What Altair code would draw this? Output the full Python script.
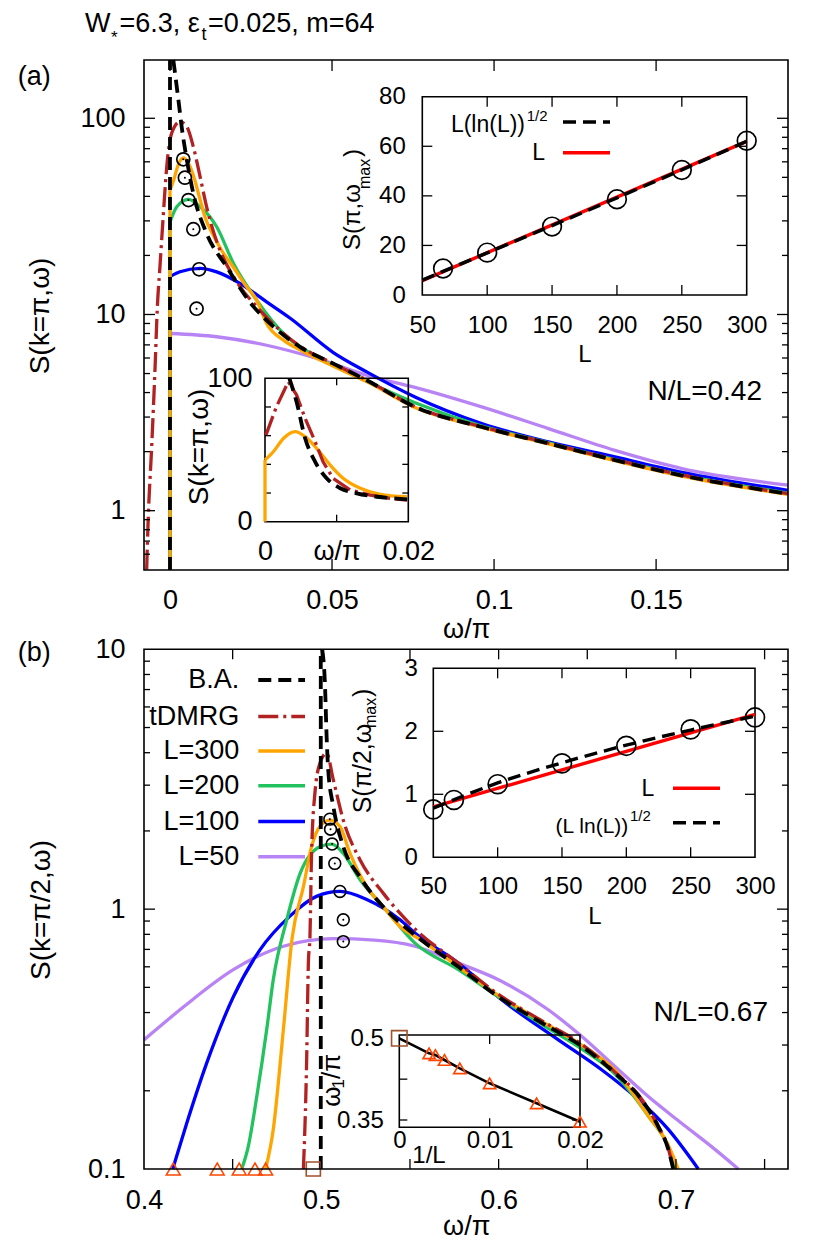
import altair as alt
import pandas as pd

FONT = "Liberation Sans"
H = 1109.0

# ======================= DATA =======================
# ---- panel (a): S(k=pi, omega), N/L=0.42 ----
A_BA_EDGE_W = [0.0, 0.0]
A_BA_EDGE_S = [0.4985, 198.2]
A_BA_W = [0.00103, 0.0026, 0.0036, 0.0052, 0.0072, 0.0113, 0.0175, 0.0257, 0.0288, 0.0401,
          0.0504, 0.0607, 0.0756, 0.0962, 0.1168, 0.1373, 0.158, 0.1907]
A_BA_S = [198.0, 124.0, 90.6, 61.3, 41.4, 25.9, 17.5, 11.0, 9.7, 6.84,
          5.62, 4.62, 3.38, 2.67, 2.20, 1.81, 1.51, 1.22]

A_TD_W = [-0.0072, -0.0067, -0.0057, -0.0046, -0.0039, -0.0031, -0.0021, -0.001, 0.0005, 0.0031,
          0.0052, 0.0072, 0.0093, 0.0113, 0.0154, 0.0196, 0.0278, 0.0401, 0.0504, 0.0607,
          0.0756, 0.0962, 0.1168, 0.1373, 0.158, 0.1907]
A_TD_S = [0.5, 0.93, 2.03, 5.4, 10.9, 17.5, 31.5, 56.6, 83.8, 96.0,
          90.6, 71.6, 50.3, 35.4, 21.3, 15.6, 10.5, 6.9, 5.62, 4.63,
          3.39, 2.68, 2.21, 1.82, 1.52, 1.22]

A_EDGE_W = [0.0, 0.0]
A_300_EDGE_S = [0.4985, 43.0]
A_300_W = [0.0, 0.0012, 0.0026, 0.0042, 0.0056, 0.0072, 0.0091, 0.0109, 0.0133, 0.0161,
           0.0198, 0.023, 0.0268, 0.0298, 0.035, 0.0401, 0.0504, 0.0607, 0.0756, 0.0962,
           0.1168, 0.1373, 0.158, 0.1907]
A_300_S = [43.0, 48.8, 58.2, 62.8, 59.3, 51.2, 39.5, 31.0, 25.5, 21.0,
           17.2, 14.3, 11.8, 9.0, 7.4, 6.6, 5.45, 4.55, 3.36, 2.66,
           2.19, 1.80, 1.50, 1.21]

A_200_EDGE_S = [0.4985, 29.6]
A_200_W = [0.0, 0.0021, 0.0057, 0.0093, 0.0123, 0.0144, 0.0196, 0.0268, 0.035, 0.0453,
           0.0556, 0.0756, 0.0962, 0.1168, 0.1373, 0.158, 0.1907]
A_200_S = [29.6, 35.4, 38.6, 35.4, 31.5, 28.0, 18.2, 11.8, 8.0, 6.08,
           5.0, 3.55, 2.7, 2.22, 1.82, 1.52, 1.23]

A_100_EDGE_S = [0.4985, 15.6]
A_100_W = [0.0, 0.0031, 0.0093, 0.0144, 0.0216, 0.0298, 0.037, 0.0504, 0.0607, 0.0756,
           0.0962, 0.1168, 0.1373, 0.158, 0.1907]
A_100_S = [15.6, 16.5, 17.2, 16.5, 14.4, 11.6, 9.6, 6.4, 5.1, 3.8,
           2.78, 2.24, 1.88, 1.57, 1.27]

A_50_EDGE_S = [0.4985, 8.0]
A_50_W = [0.0, 0.0144, 0.0298, 0.0453, 0.0607, 0.0756, 0.0962, 0.1168, 0.1373, 0.158, 0.1907]
A_50_S = [8.0, 7.7, 6.97, 5.97, 4.9, 4.25, 3.38, 2.62, 2.03, 1.64, 1.35]

A_MAX_W = [0.0041, 0.0046, 0.0057, 0.0072, 0.009, 0.0082]
A_MAX_S = [61.8, 49.8, 38.3, 27.2, 17.0, 10.7]

# inset (a) upper: S(pi, omega_max) vs L
A1_L = [66, 100, 150, 200, 250, 300]
A1_S = [10.7, 17.1, 27.6, 38.6, 50.4, 62.2]
A1_LIN_L = [50, 300]
A1_LIN_S = [5.8, 62.0]
A1_LOG_L = [50, 100, 150, 200, 250, 300]
A1_LOG_S = [6.0, 17.0, 28.0, 39.2, 50.5, 62.0]

# inset (a) lower: zoom near omega=0 (linear scale)
A2_TD_W = [0.00014, 0.0016, 0.00325, 0.0044, 0.0056, 0.007, 0.0081, 0.0095, 0.0119, 0.0147, 0.0174, 0.0198]
A2_TD_S = [60.5, 80.2, 97.6, 88.4, 72.1, 55.8, 41.8, 30.3, 22.1, 18.6, 16.3, 15.1]
A2_BA_W = [0.0034, 0.0044, 0.0056, 0.007, 0.0086, 0.0105, 0.0128, 0.0156, 0.0193, 0.02]
A2_BA_S = [100.0, 83.7, 58.2, 41.8, 30.3, 23.3, 19.8, 17.4, 15.8, 15.6]
A2_300_EDGE_W = [0.0, 0.0]
A2_300_EDGE_S = [0.0, 43.0]
A2_300_W = [0.0, 0.00116, 0.0026, 0.0042, 0.0056, 0.0072, 0.0091, 0.0109, 0.0133, 0.0161, 0.0198]
A2_300_S = [43.0, 48.8, 58.2, 62.8, 59.3, 51.2, 39.5, 30.3, 23.3, 19.1, 17.4]

# ---- panel (b): S(k=pi/2, omega), N/L=0.67 ----
B_BA_EDGE_W = [0.4997, 0.4997]
B_BA_EDGE_S = [0.1, 10.0]
B_BA_W = [0.5005, 0.5021, 0.503, 0.5039, 0.5068, 0.5124, 0.5218, 0.535, 0.5528, 0.5773,
          0.5999, 0.6243, 0.6468, 0.6656, 0.6806, 0.69, 0.6957, 0.6985]
B_BA_S = [10.0, 7.2, 4.6, 3.43, 2.48, 1.74, 1.33, 1.02, 0.795, 0.60,
          0.46, 0.365, 0.297, 0.234, 0.185, 0.146, 0.119, 0.1]

B_TD_W = [0.4899, 0.4917, 0.4927, 0.4936, 0.4945, 0.4964, 0.4992, 0.503, 0.5068, 0.5124,
          0.5218, 0.535, 0.5528, 0.5773, 0.5999, 0.6243, 0.6468, 0.6656, 0.6806, 0.69,
          0.6957, 0.6985]
B_TD_S = [0.1, 0.256, 0.62, 0.785, 1.64, 2.8, 3.64, 3.98, 3.14, 2.2,
          1.55, 1.15, 0.84, 0.62, 0.47, 0.372, 0.302, 0.236, 0.186, 0.146,
          0.12, 0.1]

B_300_W = [0.4686, 0.4729, 0.4786, 0.4835, 0.4899, 0.4945, 0.4992, 0.5048, 0.5105, 0.5162,
           0.5256, 0.535, 0.5444, 0.555, 0.5773, 0.6, 0.6243, 0.6468, 0.6656, 0.6844,
           0.6953, 0.7013]
B_300_S = [0.1, 0.142, 0.344, 0.77, 1.22, 1.74, 2.08, 2.2, 2.08, 1.64,
           1.22, 1.02, 0.857, 0.77, 0.60, 0.465, 0.37, 0.30, 0.24, 0.16,
           0.125, 0.1]

B_200_W = [0.4551, 0.4588, 0.4636, 0.4692, 0.4729, 0.4805, 0.488, 0.4992, 0.5059, 0.5124,
           0.5218, 0.535, 0.5528, 0.5773, 0.5999, 0.6243, 0.6468, 0.6656, 0.6844, 0.6957,
           0.7004]
B_200_S = [0.1, 0.122, 0.19, 0.344, 0.535, 0.91, 1.37, 1.74, 1.78, 1.64,
           1.3, 1.02, 0.74, 0.585, 0.46, 0.36, 0.29, 0.232, 0.16, 0.122,
           0.1]

B_100_W = [0.4162, 0.4241, 0.4354, 0.4504, 0.4654, 0.4823, 0.4973, 0.5105, 0.5256, 0.5444,
           0.5528, 0.5773, 0.6017, 0.6337, 0.6581, 0.6769, 0.6957, 0.7126]
B_100_S = [0.1, 0.15, 0.256, 0.46, 0.697, 0.94, 1.12, 1.17, 1.09, 0.91,
           0.81, 0.62, 0.448, 0.314, 0.241, 0.19, 0.142, 0.1]

B_50_W = [0.4, 0.4222, 0.4504, 0.4786, 0.5068, 0.53, 0.5528, 0.5773, 0.5999, 0.628,
          0.6468, 0.6656, 0.6844, 0.7032, 0.722, 0.7352]
B_50_S = [0.314, 0.42, 0.585, 0.72, 0.77, 0.76, 0.72, 0.62, 0.535, 0.41,
          0.324, 0.248, 0.19, 0.15, 0.119, 0.1]

B_MAX_W = [0.5048, 0.5052, 0.5061, 0.5076, 0.5105, 0.5124, 0.5124]
B_MAX_S = [2.22, 2.03, 1.78, 1.5, 1.17, 0.91, 0.75]
B_TRI_W = [0.4165, 0.4413, 0.4537, 0.4626, 0.4686]
B_TRI_S = [0.1, 0.1, 0.1, 0.1, 0.1]
B_SQ_W = [0.4955]
B_SQ_S = [0.1]

# inset (b) upper
B1_L = [50, 66, 100, 150, 200, 250, 300]
B1_S = [0.76, 0.91, 1.16, 1.49, 1.77, 2.03, 2.22]
B1_LIN_L = [50, 300]
B1_LIN_S = [0.80, 2.27]
B1_LOG_L = [50, 100, 150, 200, 250, 300]
B1_LOG_S = [0.78, 1.18, 1.50, 1.78, 2.02, 2.24]

# inset (b) lower: omega_1/pi vs 1/L
B2_X = [0.0033, 0.004, 0.005, 0.0067, 0.01, 0.0152, 0.02]
B2_Y = [0.4725, 0.4693, 0.4602, 0.4449, 0.4174, 0.3807, 0.3469]
B2_LINE_X = [0.0, 0.0033, 0.004, 0.005, 0.0067, 0.01, 0.0152, 0.02]
B2_LINE_Y = [0.5, 0.4725, 0.4693, 0.4602, 0.4449, 0.4174, 0.3807, 0.3469]
B2_SQ_X = [0.0]
B2_SQ_Y = [0.5]

LEGEND_B = ["B.A.", "tDMRG", "L=300", "L=200", "L=100", "L=50"]

# ======================= STYLE / COORDINATE SYSTEMS =======================
C_BA = "#000000"
C_TD = "#b22222"
C_300 = "#ffa500"
C_200 = "#22c35e"
C_100 = "#0000ff"
C_50 = "#b884f5"
C_RED = "#ff0000"
C_TRI = "#ff4500"
C_SQ = "#a0522d"
D_BA = [13, 7]
D_TD = [20, 5, 3, 5]

CA = dict(xd=[-0.00802, 0.1907], xr=[0, 644], yd=[0.4985, 198.2], yr=[510, 0], log=True)
CA1 = dict(xd=[50, 300], xr=[278.3, 602.7], yd=[0, 80], yr=[235, 36.7])
CA2 = dict(xd=[0, 0.02], xr=[121, 264.3], yd=[0, 100], yr=[461.7, 318.3])
CB = dict(xd=[0.4, 0.7632], xr=[0, 644], yd=[0.1, 10], yr=[H, 589.3], log=True)
CB1 = dict(xd=[50, 300], xr=[289.3, 611], yd=[0, 3], yr=[797.3, 608.3])
CB2 = dict(xd=[0, 0.02], xr=[255.3, 436], yd=[0.3366, 0.5061], yr=[1067.3, 975])

ONE = pd.DataFrame({"k": [0]})
PLAIN = "'' + datum.value"


def sx(c):
    return alt.Scale(type="linear", domain=c["xd"], range=c["xr"], zero=False, nice=False)


def sy(c):
    if c.get("log"):
        return alt.Scale(type="log", domain=c["yd"], range=c["yr"], nice=False)
    return alt.Scale(type="linear", domain=c["yd"], range=c["yr"], zero=False, nice=False)


def curve(c, w, s, color, width=3.3, dash=None, interp="monotone"):
    df = pd.DataFrame({"w": w, "s": s, "i": list(range(len(w)))})
    kw = dict(color=color, strokeWidth=width, interpolate=interp, strokeCap="butt", strokeJoin="round")
    if dash is not None:
        kw["strokeDash"] = dash
    return alt.Chart(df).mark_line(**kw).encode(
        x=alt.X("w:Q", scale=sx(c), axis=None),
        y=alt.Y("s:Q", scale=sy(c), axis=None),
        order="i:Q")


def marks(c, w, s, shape, size, color, filled=False, sw=1.5):
    df = pd.DataFrame({"w": w, "s": s})
    return alt.Chart(df).mark_point(shape=shape, size=size, filled=filled, color=color,
                                    strokeWidth=sw, opacity=1).encode(
        x=alt.X("w:Q", scale=sx(c), axis=None),
        y=alt.Y("s:Q", scale=sy(c), axis=None))


def lab_axis(orient, values, offset, pad, size, expr=PLAIN):
    kw = dict(orient=orient, values=values, offset=offset, labelPadding=pad, ticks=False,
              domain=False, grid=False, title=None, labelFont=FONT, labelFontSize=size,
              labelColor="black", labelFlush=False, labelOverlap=False, labelExpr=expr)
    if orient in ("bottom", "top"):
        kw["labelBaseline"] = "middle"
    return alt.Axis(**kw)


def xticks(c, vals, edge, length, axis=None):
    yv = c["yd"][0] if edge == "bottom" else c["yd"][1]
    off = -length if edge == "bottom" else length
    df = pd.DataFrame({"v": vals})
    return alt.Chart(df).mark_rule(color="black", strokeWidth=1.3, y2Offset=off).encode(
        x=alt.X("v:Q", scale=sx(c), axis=axis),
        y=alt.YDatum(yv, type="quantitative", scale=sy(c), axis=None),
        y2=alt.Y2Datum(yv))


def yticks(c, vals, edge, length, axis=None):
    xv = c["xd"][0] if edge == "left" else c["xd"][1]
    off = length if edge == "left" else -length
    df = pd.DataFrame({"v": vals})
    return alt.Chart(df).mark_rule(color="black", strokeWidth=1.3, x2Offset=off).encode(
        y=alt.Y("v:Q", scale=sy(c), axis=axis),
        x=alt.XDatum(xv, type="quantitative", scale=sx(c), axis=None),
        x2=alt.X2Datum(xv))


def frame(c, sw=1.6):
    return alt.Chart(ONE).mark_rect(fillOpacity=0, stroke="black", strokeWidth=sw).encode(
        x=alt.XDatum(c["xd"][0], type="quantitative", scale=sx(c), axis=None),
        x2=alt.X2Datum(c["xd"][1]),
        y=alt.YDatum(c["yd"][0], type="quantitative", scale=sy(c), axis=None),
        y2=alt.Y2Datum(c["yd"][1]))


def txt(s, x, y, size=27, align="left", baseline="middle", angle=0):
    kw = dict(text=s, align=align, baseline=baseline, fontSize=size, font=FONT, color="black")
    if angle:
        kw["angle"] = angle
    return alt.Chart(ONE).mark_text(**kw).encode(x=alt.value(x), y=alt.value(y))


def sample(x1, x2, y, color, width, dash=None):
    kw = dict(color=color, strokeWidth=width, strokeCap="butt")
    if dash is not None:
        kw["strokeDash"] = dash
    return alt.Chart(ONE).mark_rule(**kw).encode(x=alt.value(x1), x2=alt.value(x2), y=alt.value(y))


L = []

# ---------------- panel (a) main ----------------
L += [
    curve(CA, A_EDGE_W, A_50_EDGE_S, C_50, interp="linear"),
    curve(CA, A_50_W, A_50_S, C_50),
    curve(CA, A_EDGE_W, A_100_EDGE_S, C_100, interp="linear"),
    curve(CA, A_100_W, A_100_S, C_100),
    curve(CA, A_EDGE_W, A_200_EDGE_S, C_200, interp="linear"),
    curve(CA, A_200_W, A_200_S, C_200),
    curve(CA, A_EDGE_W, A_300_EDGE_S, C_300, interp="linear"),
    curve(CA, A_300_W, A_300_S, C_300),
    curve(CA, A_TD_W, A_TD_S, C_TD, dash=D_TD),
    curve(CA, A_BA_EDGE_W, A_BA_EDGE_S, C_BA, width=3.8, dash=D_BA, interp="linear"),
    curve(CA, A_BA_W, A_BA_S, C_BA, width=3.8, dash=D_BA),
    marks(CA, A_MAX_W, A_MAX_S, "circle", 170, "black", sw=1.7),
    marks(CA, A_MAX_W, A_MAX_S, "circle", 4, "black", filled=True),
]
A_MINOR = [0.6, 0.7, 0.8, 0.9, 2, 3, 4, 5, 6, 7, 8, 9, 20, 30, 40, 50, 60, 70, 80, 90]
L += [
    frame(CA),
    xticks(CA, [0, 0.05, 0.1, 0.15], "bottom", 11,
           axis=lab_axis("bottom", [0, 0.05, 0.1, 0.15], 510 - H, 30, 27)),
    xticks(CA, [0, 0.05, 0.1, 0.15], "top", 11),
    yticks(CA, [1, 10, 100], "left", 11, axis=lab_axis("left", [1, 10, 100], 0, 19, 27)),
    yticks(CA, [1, 10, 100], "right", 11),
    yticks(CA, A_MINOR, "left", 6),
    yticks(CA, A_MINOR, "right", 6),
]

# inset (a) upper
L += [
    frame(CA1),
    xticks(CA1, [100, 150, 200, 250], "bottom", 10,
           axis=lab_axis("bottom", [50, 100, 150, 200, 250, 300], 235 - H, 30, 24)),
    xticks(CA1, [100, 150, 200, 250], "top", 10),
    yticks(CA1, [20, 40, 60], "left", 10,
           axis=lab_axis("left", [0, 20, 40, 60, 80], -278.3, 17, 24)),
    yticks(CA1, [20, 40, 60], "right", 10),
    curve(CA1, A1_LIN_L, A1_LIN_S, C_RED, width=3.4, interp="linear"),
    curve(CA1, A1_LOG_L, A1_LOG_S, C_BA, width=3.4, dash=D_BA),
    marks(CA1, A1_L, A1_S, "circle", 350, "black", sw=1.7),
    txt("L(ln(L))", 381, 65, 23, align="right"),
    txt("1/2", 382.7, 56, 15),
    sample(419, 466, 62, C_BA, 3.6, D_BA),
    txt("L", 401, 92.7, 23, align="right"),
    sample(419, 466, 92.7, C_RED, 3.6),
    txt("L", 441, 295, 24, align="center"),
    txt("S(π,ω", 209.3, 190, 24, angle=270),
    txt("max", 221, 129, 16, angle=270),
    txt(")", 209.3, 97, 24, angle=270),
]

# inset (a) lower
L += [
    frame(CA2),
    xticks(CA2, [0.01], "bottom", 7,
           axis=lab_axis("bottom", [0, 0.01, 0.02], 461.7 - H, 30, 27,
                         expr="datum.value < 0.005 ? '0' : (datum.value > 0.015 ? '0.02' : 'ω/π')")),
    xticks(CA2, [0.01], "top", 7),
    yticks(CA2, [20, 40, 60, 80], "left", 6,
           axis=lab_axis("left", [0, 100], -121, 13, 27)),
    yticks(CA2, [20, 40, 60, 80], "right", 6),
    curve(CA2, A2_300_EDGE_W, A2_300_EDGE_S, C_300, interp="linear"),
    curve(CA2, A2_300_W, A2_300_S, C_300),
    curve(CA2, A2_TD_W, A2_TD_S, C_TD, dash=D_TD, interp="linear"),
    curve(CA2, A2_BA_W, A2_BA_S, C_BA, width=3.8, dash=D_BA),
    txt("S(k=π,ω)", 56, 387, 28, align="center", angle=270),
]

# ---------------- panel (b) main ----------------
L += [
    curve(CB, B_50_W, B_50_S, C_50),
    curve(CB, B_100_W, B_100_S, C_100),
    curve(CB, B_200_W, B_200_S, C_200),
    curve(CB, B_300_W, B_300_S, C_300),
    curve(CB, B_TD_W, B_TD_S, C_TD, dash=D_TD),
    curve(CB, B_BA_EDGE_W, B_BA_EDGE_S, C_BA, width=3.8, dash=D_BA, interp="linear"),
    curve(CB, B_BA_W, B_BA_S, C_BA, width=3.8, dash=D_BA),
    marks(CB, B_MAX_W, B_MAX_S, "circle", 140, "black", sw=1.6),
    marks(CB, B_MAX_W, B_MAX_S, "circle", 4, "black", filled=True),
    marks(CB, B_TRI_W, B_TRI_S, "triangle-up", 190, C_TRI, sw=1.6),
    marks(CB, B_SQ_W, B_SQ_S, "square", 200, C_SQ, sw=1.6),
]
B_MINOR = [0.2, 0.3, 0.4, 0.5, 0.6, 0.7, 0.8, 0.9, 2, 3, 4, 5, 6, 7, 8, 9]
B_XT = [0.45, 0.5, 0.55, 0.6, 0.65, 0.7, 0.75]
L += [
    frame(CB),
    xticks(CB, B_XT, "bottom", 10, axis=lab_axis("bottom", [0.4, 0.5, 0.6, 0.7], 0, 31, 27)),
    xticks(CB, B_XT, "top", 10),
    yticks(CB, [1], "left", 11, axis=lab_axis("left", [0.1, 1, 10], 0, 19, 27)),
    yticks(CB, [1], "right", 11),
    yticks(CB, B_MINOR, "left", 6),
    yticks(CB, B_MINOR, "right", 6),
]

# legend of panel (b)
LEG_Y = [620, 656.5, 691, 725.7, 761.5, 796.7]
LEG_STYLE = [(C_BA, 3.8, D_BA), (C_TD, 3.4, D_TD), (C_300, 3.4, None),
             (C_200, 3.4, None), (C_100, 3.4, None), (C_50, 3.4, None)]
for name, yy, (col, wd, ds) in zip(LEGEND_B, LEG_Y, LEG_STYLE):
    L.append(txt(name, 95.3, yy, 27, align="right"))
    L.append(sample(114.3, 161, yy, col, wd, ds))

# inset (b) upper
L += [
    frame(CB1),
    xticks(CB1, [100, 150, 200, 250], "bottom", 10,
           axis=lab_axis("bottom", [50, 100, 150, 200, 250, 300], 797.3 - H, 29.4, 24)),
    xticks(CB1, [100, 150, 200, 250], "top", 10),
    yticks(CB1, [1, 2], "left", 10, axis=lab_axis("left", [0, 1, 2, 3], -289.3, 16, 24)),
    yticks(CB1, [1, 2], "right", 10),
    curve(CB1, B1_LIN_L, B1_LIN_S, C_RED, width=3.4, interp="linear"),
    curve(CB1, B1_LOG_L, B1_LOG_S, C_BA, width=3.4, dash=D_BA),
    marks(CB1, B1_L, B1_S, "circle", 360, "black", sw=1.7),
    txt("L", 510.3, 728.7, 23, align="right"),
    sample(529, 576, 728.3, C_RED, 3.6),
    txt("(L ln(L))", 484.3, 767, 21, align="right"),
    txt("1/2", 486, 756, 15),
    sample(529, 576, 762.7, C_BA, 3.6, D_BA),
    txt("L", 451, 856.7, 24, align="center"),
    txt("S(π/2,ω", 218.5, 753.3, 25, angle=270),
    txt("max", 227, 668, 16, angle=270),
    txt(")", 218.5, 637, 25, angle=270),
]

# inset (b) lower
L += [
    frame(CB2),
    xticks(CB2, [0.01], "bottom", 9,
           axis=lab_axis("bottom", [0, 0.01, 0.02], 1067.3 - H, 13, 24)),
    xticks(CB2, [0.01], "top", 9),
    yticks(CB2, [0.35, 0.425], "left", 8,
           axis=lab_axis("left", [0.35, 0.5], -255.3, 16, 24)),
    yticks(CB2, [0.35, 0.425], "right", 8),
    curve(CB2, B2_LINE_X, B2_LINE_Y, C_BA, width=2.6, interp="linear"),
    marks(CB2, B2_X, B2_Y, "triangle-up", 150, C_TRI, sw=1.6),
    marks(CB2, B2_SQ_X, B2_SQ_Y, "square", 240, C_SQ, sw=1.6),
    txt("1/L", 285, 1096, 24, align="center"),
    txt("ω", 188, 1046.7, 26, angle=270),
    txt("1", 195, 1028.5, 17, angle=270),
    txt("/π", 188, 1019, 26, angle=270),
]

# ---------------- global texts ----------------
L += [
    txt("W", -59, -28.3, 27, baseline="alphabetic"),
    txt("*", -33, -17.5, 17, baseline="alphabetic"),
    txt("=6.3, ε", -24.5, -28.3, 27, baseline="alphabetic"),
    txt("t", 57.5, -20, 18, baseline="alphabetic"),
    txt("=0.025, m=64", 64, -28.3, 27, baseline="alphabetic"),
    txt("(a)", -109.8, 17, 27, align="center"),
    txt("(b)", -109.8, 592.5, 27, align="center"),
    txt("S(k=π,ω)", -103, 256, 28, align="center", angle=270),
    txt("S(k=π/2,ω)", -102, 850, 28, align="center", angle=270),
    txt("ω/π", 322.7, 570, 27, align="center"),
    txt("ω/π", 322.7, 1167, 27, align="center"),
    txt("N/L=0.42", 618, 331.7, 28, align="right"),
    txt("N/L=0.67", 624, 953, 28, align="right"),
]

chart = alt.layer(*L).resolve_scale(x="independent", y="independent").properties(
    width=644, height=H,
    autosize=alt.AutoSizeParams(type="none"),
    padding={"left": 136, "top": 52, "right": 34, "bottom": 82},
).configure_view(strokeWidth=0)

chart.save("out.html", embed_options={"renderer": "svg", "actions": False})
